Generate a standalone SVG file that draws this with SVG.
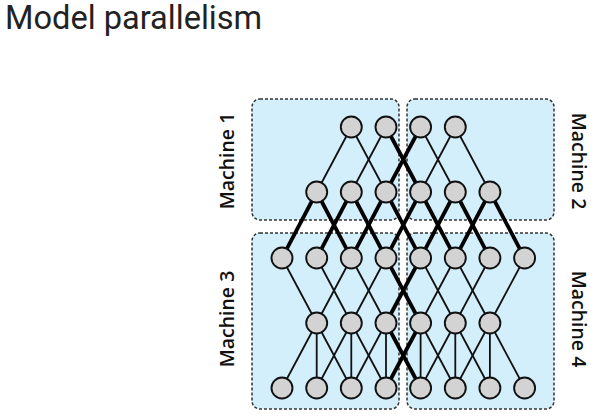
<svg xmlns="http://www.w3.org/2000/svg" width="615" height="420" viewBox="0 0 615 420">
<style>
.title{font-family:Roboto,"Liberation Sans",sans-serif;font-size:32.6px;fill:#222}
.lbl{font-family:"Open Sans","DejaVu Sans",sans-serif;font-size:19.5px;font-weight:600;fill:#111;text-anchor:middle}
.box{fill:#d3effc;stroke:#333;stroke-width:1.5;stroke-dasharray:3 2}
.e{stroke:#111;stroke-width:1.8;fill:none}
.t{stroke:#000;stroke-width:3.8;fill:none}
.n{fill:#d3d3d3;stroke:#111;stroke-width:1.9}
</style>
<rect width="615" height="420" fill="#fff"/>
<text class="title" x="5" y="29">Model parallelism</text>
<g id="machine1"><rect class="box" x="252" y="99" width="147" height="121" rx="8"/><text class="lbl" transform="translate(234,161) rotate(-90)">Machine 1</text></g>
<g id="machine2"><rect class="box" x="407" y="99" width="147" height="121" rx="8"/><text class="lbl" transform="translate(572,161) rotate(90)">Machine 2</text></g>
<g id="machine3"><rect class="box" x="252" y="233" width="147" height="176" rx="8"/><text class="lbl" transform="translate(234,319) rotate(-90)">Machine 3</text></g>
<g id="machine4"><rect class="box" x="407" y="233" width="147" height="176" rx="8"/><text class="lbl" transform="translate(572,319) rotate(90)">Machine 4</text></g>
<g id="connectors">
<line class="e" x1="351.3" y1="127" x2="316.7" y2="192"/>
<line class="e" x1="351.3" y1="127" x2="386" y2="192"/>
<line class="e" x1="386" y1="127" x2="351.3" y2="192"/>
<line class="t" x1="386" y1="127" x2="420.6" y2="192"/>
<line class="t" x1="420.6" y1="127" x2="386" y2="192"/>
<line class="e" x1="420.6" y1="127" x2="455.3" y2="192"/>
<line class="e" x1="455.3" y1="127" x2="420.6" y2="192"/>
<line class="e" x1="455.3" y1="127" x2="489.9" y2="192"/>
<line class="t" x1="316.7" y1="192" x2="282" y2="258"/>
<line class="t" x1="316.7" y1="192" x2="351.3" y2="258"/>
<line class="t" x1="351.3" y1="192" x2="316.7" y2="258"/>
<line class="t" x1="351.3" y1="192" x2="386" y2="258"/>
<line class="t" x1="386" y1="192" x2="351.3" y2="258"/>
<line class="t" x1="386" y1="192" x2="420.6" y2="258"/>
<line class="t" x1="420.6" y1="192" x2="386" y2="258"/>
<line class="t" x1="420.6" y1="192" x2="455.3" y2="258"/>
<line class="t" x1="455.3" y1="192" x2="420.6" y2="258"/>
<line class="t" x1="455.3" y1="192" x2="489.9" y2="258"/>
<line class="t" x1="489.9" y1="192" x2="455.3" y2="258"/>
<line class="t" x1="489.9" y1="192" x2="524.6" y2="258"/>
<line class="e" x1="282" y1="258" x2="316.7" y2="323"/>
<line class="e" x1="316.7" y1="258" x2="351.3" y2="323"/>
<line class="e" x1="351.3" y1="258" x2="316.7" y2="323"/>
<line class="e" x1="351.3" y1="258" x2="386" y2="323"/>
<line class="e" x1="386" y1="258" x2="351.3" y2="323"/>
<line class="t" x1="386" y1="258" x2="420.6" y2="323"/>
<line class="t" x1="420.6" y1="258" x2="386" y2="323"/>
<line class="e" x1="420.6" y1="258" x2="455.3" y2="323"/>
<line class="e" x1="455.3" y1="258" x2="420.6" y2="323"/>
<line class="e" x1="455.3" y1="258" x2="489.9" y2="323"/>
<line class="e" x1="489.9" y1="258" x2="455.3" y2="323"/>
<line class="e" x1="524.6" y1="258" x2="489.9" y2="323"/>
<line class="e" x1="316.7" y1="323" x2="282" y2="388"/>
<line class="e" x1="316.7" y1="323" x2="316.7" y2="388"/>
<line class="e" x1="316.7" y1="323" x2="351.3" y2="388"/>
<line class="e" x1="351.3" y1="323" x2="316.7" y2="388"/>
<line class="e" x1="351.3" y1="323" x2="351.3" y2="388"/>
<line class="e" x1="351.3" y1="323" x2="386" y2="388"/>
<line class="e" x1="386" y1="323" x2="351.3" y2="388"/>
<line class="e" x1="386" y1="323" x2="386" y2="388"/>
<line class="t" x1="386" y1="323" x2="420.6" y2="388"/>
<line class="t" x1="420.6" y1="323" x2="386" y2="388"/>
<line class="e" x1="420.6" y1="323" x2="420.6" y2="388"/>
<line class="e" x1="420.6" y1="323" x2="455.3" y2="388"/>
<line class="e" x1="455.3" y1="323" x2="420.6" y2="388"/>
<line class="e" x1="455.3" y1="323" x2="455.3" y2="388"/>
<line class="e" x1="455.3" y1="323" x2="489.9" y2="388"/>
<line class="e" x1="489.9" y1="323" x2="455.3" y2="388"/>
<line class="e" x1="489.9" y1="323" x2="489.9" y2="388"/>
<line class="e" x1="489.9" y1="323" x2="524.6" y2="388"/>
</g>
<g id="layer0">
<circle id="n0_2" class="n" cx="351.3" cy="127" r="10.5"/>
<circle id="n0_3" class="n" cx="386" cy="127" r="10.5"/>
<circle id="n0_4" class="n" cx="420.6" cy="127" r="10.5"/>
<circle id="n0_5" class="n" cx="455.3" cy="127" r="10.5"/>
</g>
<g id="layer1">
<circle id="n1_1" class="n" cx="316.7" cy="192" r="10.5"/>
<circle id="n1_2" class="n" cx="351.3" cy="192" r="10.5"/>
<circle id="n1_3" class="n" cx="386" cy="192" r="10.5"/>
<circle id="n1_4" class="n" cx="420.6" cy="192" r="10.5"/>
<circle id="n1_5" class="n" cx="455.3" cy="192" r="10.5"/>
<circle id="n1_6" class="n" cx="489.9" cy="192" r="10.5"/>
</g>
<g id="layer2">
<circle id="n2_0" class="n" cx="282" cy="258" r="10.5"/>
<circle id="n2_1" class="n" cx="316.7" cy="258" r="10.5"/>
<circle id="n2_2" class="n" cx="351.3" cy="258" r="10.5"/>
<circle id="n2_3" class="n" cx="386" cy="258" r="10.5"/>
<circle id="n2_4" class="n" cx="420.6" cy="258" r="10.5"/>
<circle id="n2_5" class="n" cx="455.3" cy="258" r="10.5"/>
<circle id="n2_6" class="n" cx="489.9" cy="258" r="10.5"/>
<circle id="n2_7" class="n" cx="524.6" cy="258" r="10.5"/>
</g>
<g id="layer3">
<circle id="n3_1" class="n" cx="316.7" cy="323" r="10.5"/>
<circle id="n3_2" class="n" cx="351.3" cy="323" r="10.5"/>
<circle id="n3_3" class="n" cx="386" cy="323" r="10.5"/>
<circle id="n3_4" class="n" cx="420.6" cy="323" r="10.5"/>
<circle id="n3_5" class="n" cx="455.3" cy="323" r="10.5"/>
<circle id="n3_6" class="n" cx="489.9" cy="323" r="10.5"/>
</g>
<g id="layer4">
<circle id="n4_0" class="n" cx="282" cy="388" r="10.5"/>
<circle id="n4_1" class="n" cx="316.7" cy="388" r="10.5"/>
<circle id="n4_2" class="n" cx="351.3" cy="388" r="10.5"/>
<circle id="n4_3" class="n" cx="386" cy="388" r="10.5"/>
<circle id="n4_4" class="n" cx="420.6" cy="388" r="10.5"/>
<circle id="n4_5" class="n" cx="455.3" cy="388" r="10.5"/>
<circle id="n4_6" class="n" cx="489.9" cy="388" r="10.5"/>
<circle id="n4_7" class="n" cx="524.6" cy="388" r="10.5"/>
</g>
</svg>
